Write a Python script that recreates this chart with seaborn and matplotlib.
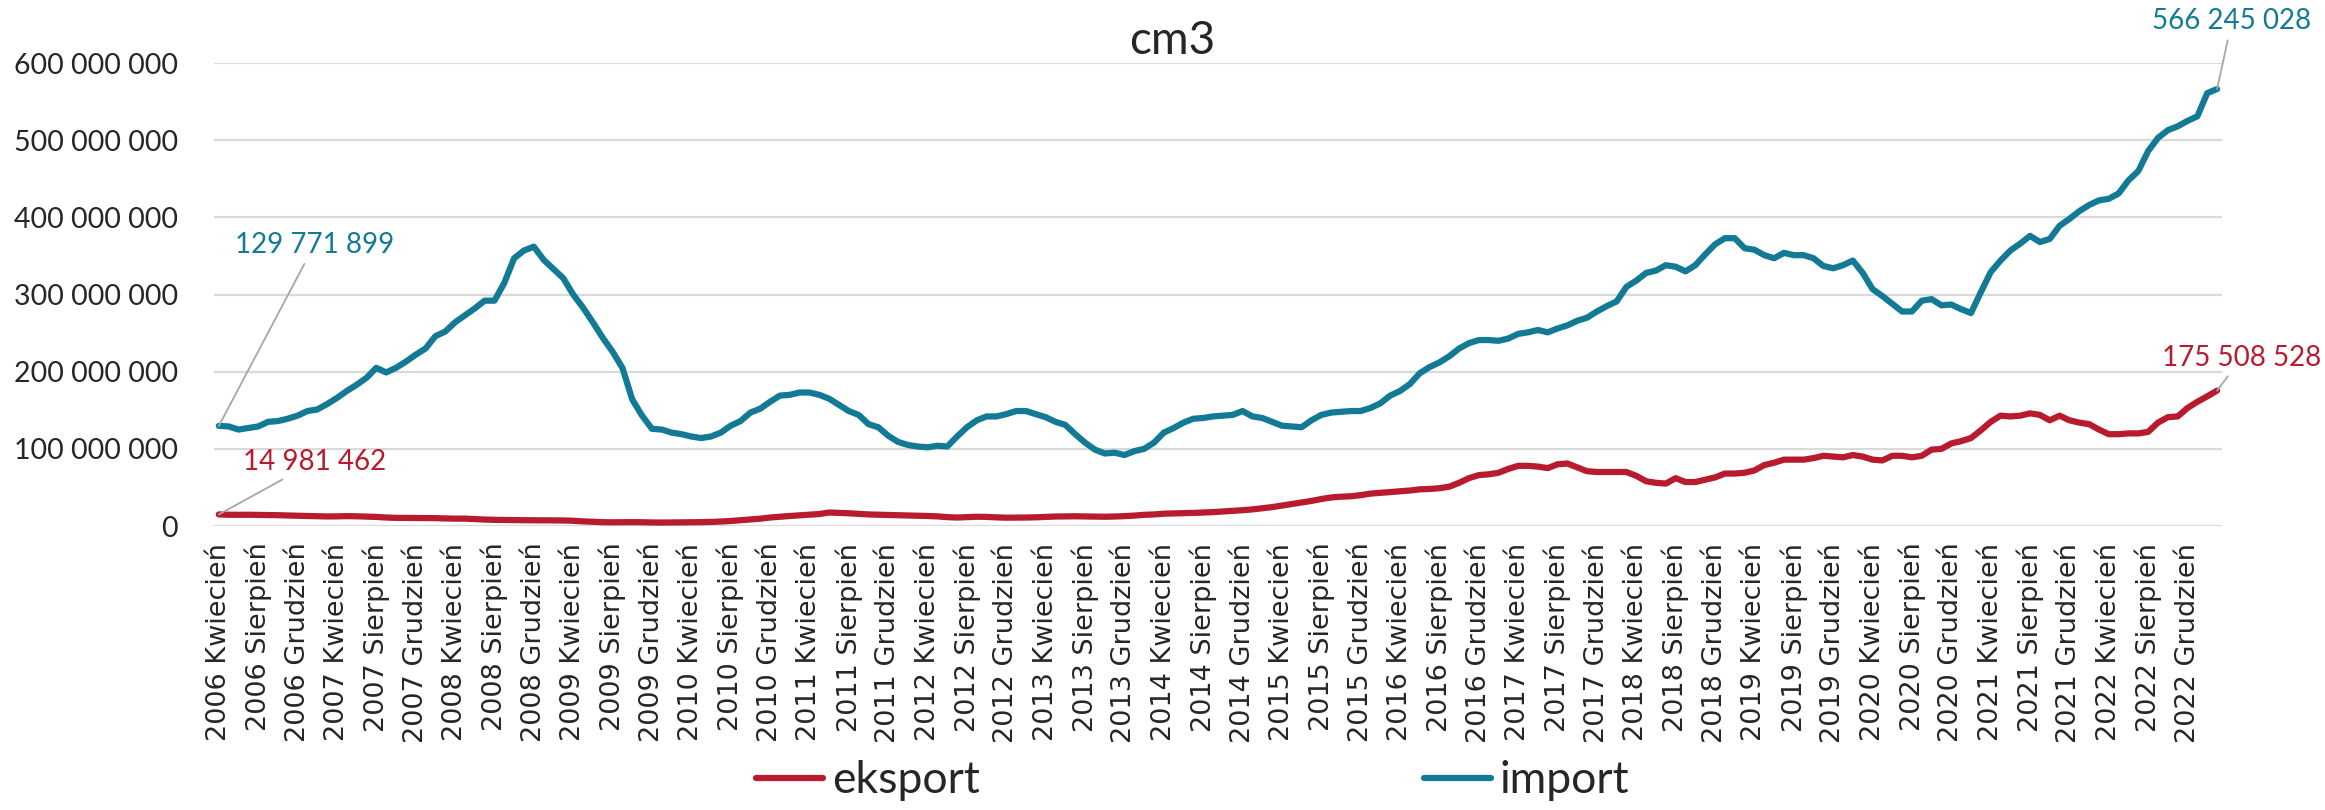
# %%
import pandas as pd
import seaborn as sns
import matplotlib.pyplot as plt
from matplotlib.ticker import FuncFormatter
from matplotlib.lines import Line2D

# %%
# dane miesięczne od 2006 Kwiecień do 2023 Marzec (wartości w mln)
lata = list(range(2006, 2024))
miesiace = ['Styczeń', 'Luty', 'Marzec', 'Kwiecień', 'Maj', 'Czerwiec', 'Lipiec',
            'Sierpień', 'Wrzesień', 'Październik', 'Listopad', 'Grudzień']
okresy = [f'{r} {m}' for r in lata for m in miesiace][3:3 + 204]

eksport = [
    14.981462, 14.6, 14.5, 14.6, 14.4, 14.2, 14.0, 13.6, 13.3, 13.0, 12.6, 12.4,
    12.5, 12.8, 12.6, 12.2, 11.8, 11.0, 10.6, 10.5, 10.4, 10.3, 10.2, 9.9,
    9.5, 9.6, 9.0, 8.4, 8.0, 7.8, 7.6, 7.5, 7.4, 7.4, 7.3, 7.2,
    6.8, 6.0, 5.5, 5.0, 4.8, 4.9, 5.0, 4.9, 4.6, 4.5, 4.6, 4.8,
    4.9, 5.0, 5.3, 5.8, 6.5, 7.5, 8.5, 9.5, 11.0, 12.0, 13.0, 13.8,
    14.5, 15.5, 17.5, 17.0, 16.5, 15.8, 15.0, 14.6, 14.3, 14.0, 13.8, 13.5,
    13.0, 12.5, 11.5, 11.0, 11.5, 12.0, 11.8, 11.2, 10.8, 10.9, 11.0, 11.3,
    11.8, 12.3, 12.5, 12.6, 12.4, 12.2, 12.0, 12.3, 12.8, 13.5, 14.5, 15.0,
    16.0, 16.3, 16.6, 17.0, 17.5, 18.0, 18.8, 19.6, 20.5, 21.5, 23.0, 24.5,
    26.5, 28.5, 30.5, 32.5, 35.0, 37.0, 38.0, 38.5, 40.0, 42.0, 43.0, 44.0,
    45.0, 46.0, 47.5, 48.0, 49.0, 51.0, 56.0, 62.0, 66.0, 67.0, 69.0, 74.0,
    78, 78, 77, 75, 80, 81, 76, 71, 70, 70, 70, 70,
    65, 58, 56, 55, 62, 57, 57, 60, 63, 68, 68, 69,
    72, 79, 82, 86, 86, 86, 88, 91, 90, 89, 92, 90,
    86, 85, 91, 91, 89, 91, 99, 100, 107, 110, 114, 124,
    135, 143, 142, 143, 146, 144, 137, 143, 137, 134, 132, 125,
    119, 119, 120, 120, 122, 134, 141, 142, 153, 161, 168, 175.508528,
]

import_ = [
    129.771899, 129, 125, 127, 129, 135, 136, 139, 143, 149, 151, 158,
    166, 175, 183, 192, 205, 199, 205, 213, 222, 230, 246, 252,
    264, 273, 282, 292, 292, 315, 347, 357, 362, 345, 333, 321,
    300, 283, 264, 244, 226, 205, 164, 143, 126, 125, 121, 119,
    116, 114, 116, 121, 130, 136, 147, 152, 161, 169, 170, 173,
    173, 170, 165, 157, 149, 144, 132, 128, 117, 109, 105, 103,
    102, 104, 103, 116, 128, 137, 142, 142, 145, 149, 149, 145,
    141, 135, 131, 119, 108, 99, 94, 95, 92, 97, 100, 108,
    121, 127, 134, 139, 140, 142, 143, 144, 149, 142, 140, 135,
    130, 129, 128, 137, 144, 147, 148, 149, 149, 153, 159, 169,
    175, 184, 198, 206, 212, 220, 230, 237, 241, 241, 240, 243,
    249, 251, 254, 251, 256, 260, 266, 270, 278, 285, 291, 310,
    318, 328, 331, 338, 336, 330, 338, 352, 365, 373, 373, 360,
    358, 351, 347, 354, 351, 351, 347, 337, 334, 338, 344, 328,
    307, 298, 288, 278, 278, 292, 294, 286, 287, 281, 276, 303,
    329, 344, 357, 366, 376, 368, 372, 389, 398, 408, 416, 422,
    424, 431, 448, 460, 486, 503, 513, 518, 525, 531, 561, 566.245028,
]

serie = ['eksport', 'import']
kolory = {'eksport': '#B81B2E', 'import': '#137A96'}

# %%
n = len(okresy)
df = pd.DataFrame({
    'nr': list(range(n)) * 2,
    'wartosc': [v * 1e6 for v in eksport + import_],
    'seria': ['eksport'] * n + ['import'] * n,
})

sns.set_style('white')
plt.rcParams['font.family'] = ['Lato', 'DejaVu Sans']

fig = plt.figure(figsize=(23.25, 8.10), dpi=100)
ax = fig.add_axes([0.092, 0.3506, 0.8637, 0.5716])

sns.lineplot(data=df, x='nr', y='wartosc', hue='seria', hue_order=serie,
             palette=kolory, linewidth=4.5, ax=ax, legend=False)

ax.set_xlim(-0.5, n - 0.5)
ax.set_ylim(0, 600e6)
ax.set_yticks([i * 100e6 for i in range(7)])
ax.yaxis.set_major_formatter(FuncFormatter(lambda v, p: f'{int(v):,}'.replace(',', ' ')))
ax.yaxis.grid(True, color='#D9D9D9', linewidth=1.6)
ax.set_axisbelow(True)
for s in ax.spines.values():
    s.set_visible(False)

ax.set_xticks(range(0, n, 4))
ax.set_xticklabels(okresy[::4], rotation=90, fontsize=19.5, family='DejaVu Sans')
ax.tick_params(axis='x', length=0, pad=12)
ax.tick_params(axis='y', length=0, pad=26, labelsize=20.5)
ax.set_xlabel('')
ax.set_ylabel('')

# etykiety wartości pierwszego i ostatniego punktu
def etykieta(i, wartosci, tx, ty, kolor):
    v = wartosci[i] * 1e6
    ax.annotate(f'{int(round(v)):,}'.replace(',', ' '), xy=(i, v), xytext=(tx, ty * 1e6),
                ha='center', va='center', fontsize=20, color=kolor, annotation_clip=False,
                arrowprops=dict(arrowstyle='-', color='#A6A6A6', lw=1.3, shrinkA=2, shrinkB=0))

etykieta(0, import_, 9.7, 364, kolory['import'])
etykieta(0, eksport, 9.7, 83, kolory['eksport'])
etykieta(n - 1, import_, 204.5, 654, kolory['import'])
etykieta(n - 1, eksport, 205.5, 218, kolory['eksport'])

fig.text(0.504, 0.949, 'cm3', ha='center', va='center', fontsize=33)

uchwyty = [Line2D([], [], color=kolory[s], linewidth=4.5) for s in serie]
fig.legend(uchwyty, serie, loc='center', bbox_to_anchor=(0.513, 0.036), ncol=2,
           frameon=False, fontsize=32, handlelength=1.5, handletextpad=0.2,
           columnspacing=10)

fig.savefig('out.png', dpi=100)
